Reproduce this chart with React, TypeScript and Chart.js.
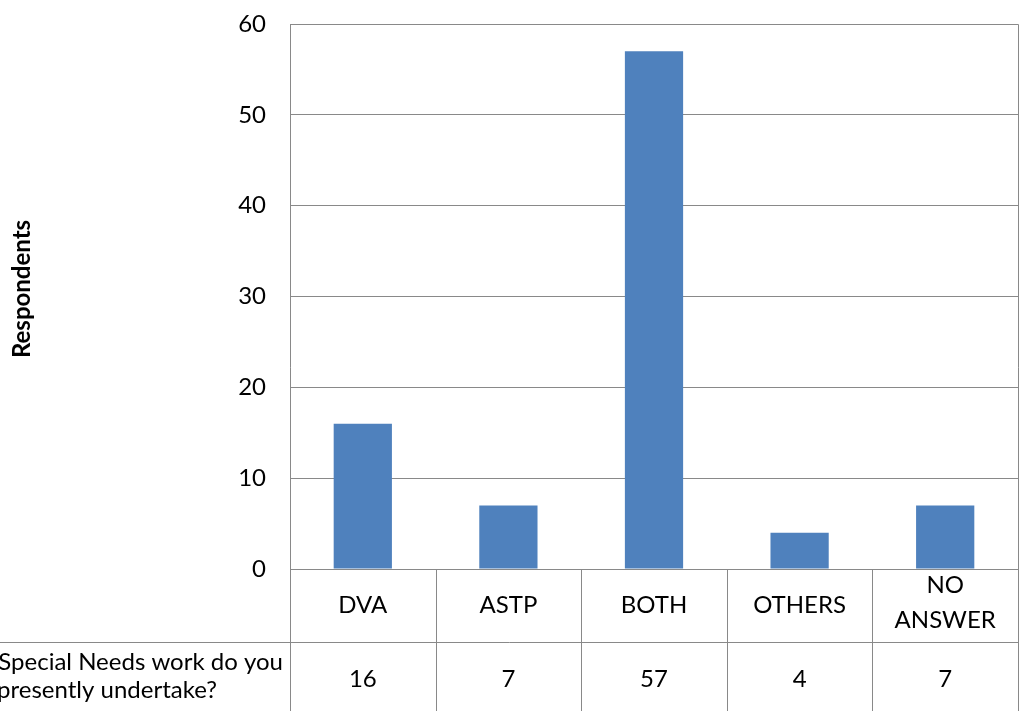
import React, { useEffect, useRef } from 'react';
import { Chart, registerables } from 'chart.js';

Chart.register(...registerables);

const categories = ['DVA', 'ASTP', 'BOTH', 'OTHERS', 'NO ANSWER'];
const categoryLines = [['DVA'], ['ASTP'], ['BOTH'], ['OTHERS'], ['NO', 'ANSWER']];
const values = [16, 7, 57, 4, 7];
const yMin = 0;
const yMax = 60;
const yStep = 10;
const yTitle = 'Respondents';
const rowHeaderLines = ['Special Needs work do you', 'presently undertake?'];

const FONT = 'Lato, "Open Sans", sans-serif';
const GRID = '#898989';
const BAR = '#4F81BD';
const SIZE = 24;

const tablePlugin = {
  id: 'dataTable',
  afterDraw(chart: any) {
    const { ctx, chartArea } = chart;
    const xs = chart.scales.x;
    const n = categories.length;
    const { left, right, top, bottom } = chartArea;
    const a = (v: number) => Math.round(v) + 0.5;
    const rowLine = bottom + 73;
    const H = chart.height;
    ctx.save();
    ctx.strokeStyle = GRID;
    ctx.lineWidth = 1;
    ctx.beginPath();
    ctx.moveTo(a(left), a(top));
    ctx.lineTo(a(right), a(top));
    ctx.lineTo(a(right), H);
    ctx.moveTo(a(left), a(top));
    ctx.lineTo(a(left), H);
    ctx.moveTo(a(left), a(bottom));
    ctx.lineTo(a(right), a(bottom));
    ctx.moveTo(0, a(rowLine));
    ctx.lineTo(a(right), a(rowLine));
    for (let i = 1; i < n; i++) {
      const bx = a(xs.getPixelForValue(i - 0.5));
      ctx.moveTo(bx, a(bottom));
      ctx.lineTo(bx, H);
    }
    ctx.stroke();

    ctx.fillStyle = '#000';
    ctx.font = `${SIZE}px ${FONT}`;
    ctx.textAlign = 'center';
    ctx.textBaseline = 'alphabetic';
    for (let i = 0; i < n; i++) {
      const cx = xs.getPixelForValue(i);
      const lines = categoryLines[i];
      if (lines.length === 1) {
        ctx.fillText(lines[0], cx, bottom + 44);
      } else {
        ctx.fillText(lines[0], cx, bottom + 24);
        ctx.fillText(lines[1], cx, bottom + 59);
      }
      ctx.fillText(String(values[i]), cx, bottom + 118);
    }
    ctx.textAlign = 'right';
    ctx.fillText(rowHeaderLines[0], left - 7, bottom + 101);
    ctx.fillText(rowHeaderLines[1], left - 73, bottom + 129);

    ctx.font = `bold 24px ${FONT}`;
    ctx.textAlign = 'center';
    ctx.textBaseline = 'middle';
    ctx.translate(22, 289);
    ctx.rotate(-Math.PI / 2);
    ctx.fillText(yTitle, 0, 0);
    ctx.restore();
  },
};

export default function App() {
  const ref = useRef<HTMLCanvasElement>(null);
  useEffect(() => {
    const chart = new Chart(ref.current!, {
      type: 'bar',
      data: {
        labels: categories,
        datasets: [
          {
            data: values,
            backgroundColor: BAR,
            borderWidth: 0,
            barPercentage: 0.4,
            categoryPercentage: 1,
          },
        ],
      },
      options: {
        responsive: false,
        animation: false,
        layout: { padding: { left: 0, top: 24, right: 6, bottom: 142 } },
        plugins: { legend: { display: false }, tooltip: { enabled: false } },
        scales: {
          x: { display: false, offset: true },
          y: {
            min: yMin,
            max: yMax,
            afterFit: (s: any) => {
              s.width = 290;
              s.paddingTop = 0;
              s.paddingBottom = 0;
            },
            ticks: {
              stepSize: yStep,
              padding: 24,
              color: '#000',
              font: { family: FONT, size: SIZE },
            },
            grid: { color: GRID, drawTicks: false, tickLength: 0 },
            border: { display: false },
          },
        },
      },
      plugins: [tablePlugin],
    });
    return () => chart.destroy();
  }, []);
  return (
    <div style={{ position: 'fixed', left: 0, top: 0, width: 1024, height: 711, background: '#fff' }}>
      <canvas ref={ref} width={1024} height={711} />
    </div>
  );
}
